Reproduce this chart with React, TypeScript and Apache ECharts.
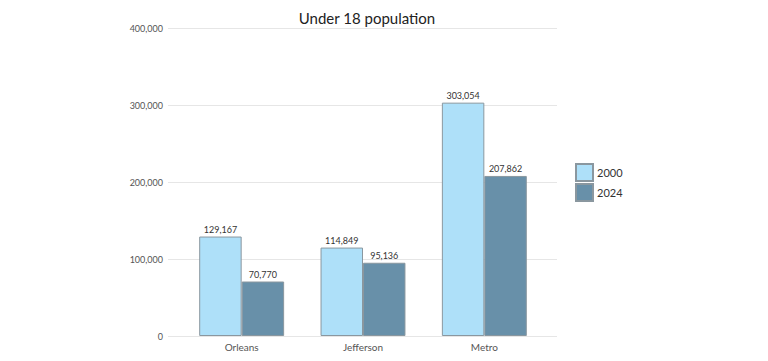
import React, { useEffect, useRef } from "react";
import * as echarts from "echarts";

const categories = ["Orleans", "Jefferson", "Metro"];
const values2000 = [129167, 114849, 303054];
const values2024 = [70770, 95136, 207862];
const yTicks = [0, 100000, 200000, 300000, 400000];

const fmt = (v: number) => v.toLocaleString("en-US");
const FONT = "Lato";

export default function App() {
  const ref = useRef<HTMLDivElement>(null);
  useEffect(() => {
    if (!ref.current) return;
    const chart = echarts.init(ref.current, undefined, { renderer: "svg" });
    const yMax = yTicks[yTicks.length - 1];
    const yInt = yTicks[1] - yTicks[0];
    chart.setOption({
      animation: false,
      textStyle: { fontFamily: FONT },
      title: {
        text: "Under 18 population",
        left: 362,
        textAlign: "center",
        top: 5,
        textStyle: { fontSize: 15, fontWeight: "normal", color: "#222", fontFamily: FONT },
      },
      legend: {
        orient: "vertical",
        left: 575,
        top: 163,
        padding: 0,
        itemWidth: 17,
        itemHeight: 17,
        itemGap: 1,
        icon: "rect",
        textStyle: { fontSize: 11, color: "#333", fontFamily: FONT, padding: [0, 0, 0, -1] },
        data: ["2000", "2024"],
      },
      grid: [
        { left: 168, right: 211, top: 28, bottom: 25 },
        { left: 181, right: 223, top: 28, bottom: 25 },
      ],
      xAxis: [
        { gridIndex: 0, type: "category", data: categories, show: false },
        {
          gridIndex: 1,
          type: "category",
          data: categories,
          axisLine: { show: false },
          axisTick: { show: false },
          axisLabel: { fontSize: 10, color: "#555", margin: 6, fontFamily: FONT },
        },
      ],
      yAxis: [
        {
          gridIndex: 0,
          type: "value",
          min: 0,
          max: yMax,
          interval: yInt,
          axisLine: { show: false },
          axisTick: { show: false },
          splitLine: { lineStyle: { color: "#e6e6e6" } },
          axisLabel: { fontSize: 9, color: "#555", formatter: (v: number) => fmt(v), margin: 5, fontFamily: FONT },
        },
        {
          gridIndex: 1,
          type: "value",
          min: 0,
          max: yMax,
          interval: yInt,
          show: false,
          splitLine: { show: false },
        },
      ],
      series: [
        {
          name: "2000",
          type: "bar",
          xAxisIndex: 1,
          yAxisIndex: 1,
          data: values2000,
          barGap: "0%",
          barCategoryGap: "30%",
          itemStyle: { color: "#aee0f9", borderColor: "#8a979f", borderWidth: 1 },
          label: {
            show: true,
            position: "top",
            distance: 3,
            fontSize: 9,
            color: "#333",
            fontFamily: FONT,
            formatter: (p: any) => fmt(p.value),
          },
        },
        {
          name: "2024",
          type: "bar",
          xAxisIndex: 1,
          yAxisIndex: 1,
          data: values2024,
          barGap: "0%",
          barCategoryGap: "30%",
          itemStyle: { color: "#6890a9", borderColor: "#8a979f", borderWidth: 1 },
          label: {
            show: true,
            position: "top",
            distance: 3,
            fontSize: 9,
            color: "#333",
            fontFamily: FONT,
            formatter: (p: any) => fmt(p.value),
          },
        },
      ],
    });
    return () => chart.dispose();
  }, []);
  return <div ref={ref} style={{ width: 768, height: 361, position: "absolute", left: 0, top: 0 }} />;
}
